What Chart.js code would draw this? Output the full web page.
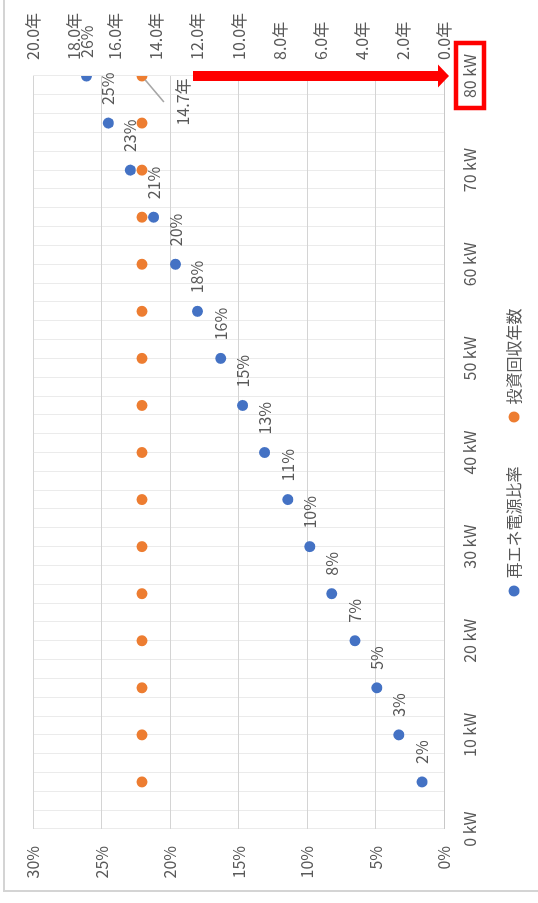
<!DOCTYPE html>
<html>
<head>
<meta charset="utf-8">
<script src="https://cdn.jsdelivr.net/npm/chart.js@4.4.1/dist/chart.umd.min.js"></script>
<style>
  html, body { margin: 0; padding: 0; background: #ffffff; width: 538px; height: 903px; overflow: hidden; }
  /* the chart is laid out landscape and turned a quarter turn counter-clockwise */
  #frame { position: absolute; left: 0; top: 0; width: 903px; height: 538px;
           transform-origin: 0 0; transform: translateY(903px) rotate(-90deg); }
  canvas { display: block; }
</style>
</head>
<body>
<div id="frame"><canvas id="chart" width="903" height="538"></canvas></div>
<script>
// PV capacity (kW) for each case
const capacityKW = [5, 10, 15, 20, 25, 30, 35, 40, 45, 50, 55, 60, 65, 70, 75, 80];
// share of renewable supply (%)
const renewableShare = [1.6, 3.3, 4.9, 6.5, 8.2, 9.8, 11.4, 13.1, 14.7, 16.3, 18.0, 19.6, 21.2, 22.9, 24.5, 26.1];
// payback period of the investment (years)
const paybackYears = [14.7, 14.7, 14.7, 14.7, 14.7, 14.7, 14.7, 14.7, 14.7, 14.7, 14.7, 14.7, 14.7, 14.7, 14.7, 14.7];

const seriesNames = ['再エネ電源比率', '投資回収年数'];
const kwTicks = [0, 10, 20, 30, 40, 50, 60, 70, 80];
const percentTicks = [0, 5, 10, 15, 20, 25, 30];
const yearTicks = [0, 2, 4, 6, 8, 10, 12, 14, 16, 18, 20];

const BLUE = '#4472C4';
const ORANGE = '#ED7D31';
const TEXT = '#595959';
const FONT = '"Noto Sans CJK JP", "Noto Sans", sans-serif';

// every 2 kW gets a faint vertical grid line; labels only on the 10 kW steps
const kwGrid = [];
for (let v = 0; v <= 80; v += 2) kwGrid.push(v);

const outerBorder = {
  id: 'outerBorder',
  beforeDraw(chart) {
    const { ctx } = chart;
    ctx.save();
    ctx.fillStyle = '#ffffff';
    ctx.fillRect(0, 0, chart.width, chart.height);
    ctx.strokeStyle = '#D4D4D4';
    ctx.lineWidth = 2;
    ctx.strokeRect(12, 4, chart.width + 20, chart.height + 20);
    ctx.restore();
  }
};

const pointLabels = {
  id: 'pointLabels',
  afterDatasetsDraw(chart) {
    const { ctx } = chart;
    ctx.save();
    ctx.font = '16px ' + FONT;
    ctx.fillStyle = TEXT;
    ctx.textBaseline = 'middle';
    ctx.textAlign = 'left';
    chart.getDatasetMeta(0).data.forEach((el, i) => {
      ctx.fillText(Math.round(renewableShare[i]) + '%', el.x + 18, el.y);
    });
    // payback label on the largest system, pulled out with a leader line
    const pts = chart.getDatasetMeta(1).data;
    const last = pts[pts.length - 1];
    const endX = last.x - 26, endY = last.y + 22;
    const dx = endX - last.x, dy = endY - last.y, len = Math.hypot(dx, dy);
    ctx.strokeStyle = '#A6A6A6';
    ctx.lineWidth = 1.5;
    ctx.beginPath();
    ctx.moveTo(last.x + dx / len * 5, last.y + dy / len * 5);
    ctx.lineTo(endX, endY);
    ctx.stroke();
    ctx.textAlign = 'center';
    ctx.fillText(paybackYears[paybackYears.length - 1].toFixed(1) + '年', last.x - 26, last.y + 41);
    ctx.restore();
  }
};

const legendRow = {
  id: 'legendRow',
  afterDraw(chart) {
    const { ctx, chartArea } = chart;
    ctx.save();
    ctx.font = '16px ' + FONT;
    ctx.textBaseline = 'middle';
    ctx.textAlign = 'left';
    const r = 5.5, gap = 7, spacing = 44;
    const items = chart.data.datasets.map(ds => ({
      label: ds.label, color: ds.backgroundColor, w: 2 * r + gap + ctx.measureText(ds.label).width
    }));
    const total = items.reduce((s, it) => s + it.w, 0) + spacing * (items.length - 1);
    let x = (chartArea.left + chartArea.right) / 2 - total / 2;
    const y = 514;
    items.forEach(it => {
      ctx.fillStyle = it.color;
      ctx.beginPath();
      ctx.arc(x + r, y, r, 0, Math.PI * 2);
      ctx.fill();
      ctx.fillStyle = TEXT;
      ctx.fillText(it.label, x + 2 * r + gap, y);
      x += it.w + spacing;
    });
    ctx.restore();
  }
};

const callout = {
  id: 'callout',
  afterDraw(chart) {
    const { ctx } = chart;
    const xs = chart.scales.x;
    const px = xs.getPixelForValue(80);
    ctx.save();
    ctx.strokeStyle = '#FF0000';
    ctx.fillStyle = '#FF0000';
    // frame round the 80 kW label
    ctx.lineWidth = 4.5;
    ctx.strokeRect(px - 32, 456, 65, 28);
    // arrow pointing down at it
    const top = chart.chartArea.top + 160, tip = 449, head = 11;
    ctx.fillRect(px - 5, top, 10, tip - head - top);
    ctx.beginPath();
    ctx.moveTo(px - 11.5, tip - head);
    ctx.lineTo(px + 11.5, tip - head);
    ctx.lineTo(px, tip);
    ctx.closePath();
    ctx.fill();
    ctx.restore();
  }
};

const ctx = document.getElementById('chart').getContext('2d');
new Chart(ctx, {
  type: 'scatter',
  data: {
    datasets: [
      {
        label: seriesNames[0],
        data: capacityKW.map((kw, i) => ({ x: kw, y: renewableShare[i] })),
        yAxisID: 'y',
        backgroundColor: BLUE, borderColor: BLUE,
        pointRadius: 5.5, pointHoverRadius: 5.5, borderWidth: 0
      },
      {
        label: seriesNames[1],
        data: capacityKW.map((kw, i) => ({ x: kw, y: paybackYears[i] })),
        yAxisID: 'y2',
        backgroundColor: ORANGE, borderColor: ORANGE,
        pointRadius: 5.5, pointHoverRadius: 5.5, borderWidth: 0
      }
    ]
  },
  options: {
    responsive: false,
    animation: false,
    devicePixelRatio: 1,
    layout: { padding: { top: 33, bottom: 54, left: 0, right: 0 } },
    plugins: { legend: { display: false }, tooltip: { enabled: false } },
    scales: {
      x: {
        type: 'linear', position: 'bottom', min: 0, max: 80,
        afterBuildTicks(scale) { scale.ticks = kwGrid.map(v => ({ value: v })); },
        afterFit(scale) { scale.height = 40; },
        ticks: {
          autoSkip: false, maxRotation: 0, padding: 16, color: TEXT,
          font: { family: FONT, size: 16 },
          callback: v => (kwTicks.includes(v) ? v + ' kW' : '')
        },
        grid: { color: '#EBEBEB', lineWidth: 1, drawTicks: false },
        border: { color: '#C8C8C8', width: 1 }
      },
      y: {
        position: 'left', min: 0, max: 30,
        afterBuildTicks(scale) { scale.ticks = percentTicks.map(v => ({ value: v })); },
        afterFit(scale) { scale.width = 74; },
        ticks: { padding: 17, color: TEXT, font: { family: FONT, size: 16 }, callback: v => v + '%' },
        grid: { color: '#D4D4D4', lineWidth: 1, drawTicks: false },
        border: { display: false }
      },
      y2: {
        position: 'right', min: 0, max: 20,
        afterBuildTicks(scale) { scale.ticks = yearTicks.map(v => ({ value: v })); },
        afterFit(scale) { scale.width = 76; },
        ticks: { padding: 16, color: TEXT, font: { family: FONT, size: 16 }, callback: v => v.toFixed(1) + '年' },
        grid: { display: false, drawTicks: false },
        border: { display: false }
      }
    }
  },
  plugins: [outerBorder, pointLabels, legendRow, callout]
});
</script>
</body>
</html>
